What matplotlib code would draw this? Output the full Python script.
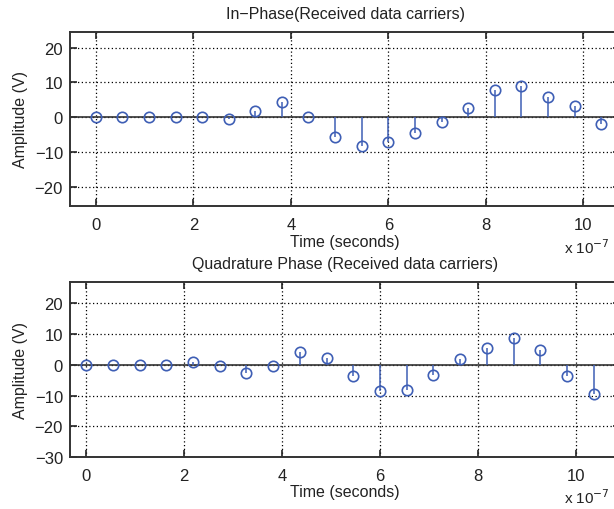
import numpy as np
import matplotlib
matplotlib.use('Agg')
import matplotlib.pyplot as plt

plt.rcParams['font.family'] = ['Liberation Sans', 'DejaVu Sans']

# time in units of 1e-7 s
t = [0.0, 0.545, 1.09, 1.636, 2.18, 2.727, 3.27, 3.818, 4.36, 4.909,
     5.45, 6.0, 6.545, 7.09, 7.636, 8.18, 8.727, 9.27, 9.818, 10.36]
in_phase = [0, 0, 0, 0, 0, -0.4, 1.8, 4.4, 0.2, -5.8,
            -8.2, -7.2, -4.4, -1.5, 2.6, 7.8, 9.1, 5.9, 3.2, -1.8]
quadrature = [0, 0, 0, 0, 1.0, -0.2, -2.5, -0.3, 4.2, 2.2,
              -3.5, -8.4, -8.1, -3.2, 1.8, 5.6, 8.8, 4.8, -3.5, -9.6]

xticks = [0, 2, 4, 6, 8, 10]
stem_col = '#3f5fb5'

W, H = 614, 510
fig = plt.figure(figsize=(W / 100, H / 100), dpi=100)
fig.patch.set_facecolor('white')


def px_axes(left, top, right, bottom):
    return fig.add_axes([left / W, 1 - bottom / H, (right - left) / W, (bottom - top) / H])


def draw(ax, y, title, ylim, yticks, xlim):
    ax.axhline(0, color='#333333', lw=1.2, zorder=2)
    ml, sl, bl = ax.stem(t, y, basefmt=' ')
    plt.setp(sl, color=stem_col, lw=1.1)
    plt.setp(ml, color=stem_col, markersize=7.5, markerfacecolor='none', markeredgewidth=1.2)
    bl.set_visible(False)
    ax.set_xlim(*xlim)
    ax.set_ylim(*ylim)
    ax.set_xticks(xticks)
    ax.set_yticks(yticks)
    ax.grid(True, color='black', linestyle=(0, (1, 2)), lw=0.9)
    ax.tick_params(direction='in', top=True, right=True, length=5, width=1.2,
                   labelsize=12, pad=5, colors='#222222')
    ax.tick_params(axis='x', pad=8)
    for s in ax.spines.values():
        s.set_linewidth(1.4)
        s.set_color('#333333')
    ax.set_title(title, fontsize=11.5, pad=10, color='#222222')
    ax.set_xlabel('Time (seconds)', fontsize=11.5, labelpad=1, color='#222222')
    ax.set_ylabel('Amplitude (V)', fontsize=11.5, labelpad=5, color='#222222')
    ax.set_axisbelow(True)


ax1 = px_axes(70, 33, 620, 207)
draw(ax1, in_phase, 'In\u2212Phase(Received data carriers)', (-25.5, 24.5),
     [-20, -10, 0, 10, 20], (-0.53, 10.75))
fig.text(564 / W, 1 - 254 / H, r'x 10$^{-7}$', fontsize=11, color='#222222')

ax2 = px_axes(70, 283, 620, 458)
draw(ax2, quadrature, 'Quadrature Phase (Received data carriers)', (-30, 27),
     [-30, -20, -10, 0, 10, 20], (-0.33, 10.9))
fig.text(564 / W, 1 - 504 / H, r'x 10$^{-7}$', fontsize=11, color='#222222')

plt.savefig('out.png', dpi=100)
